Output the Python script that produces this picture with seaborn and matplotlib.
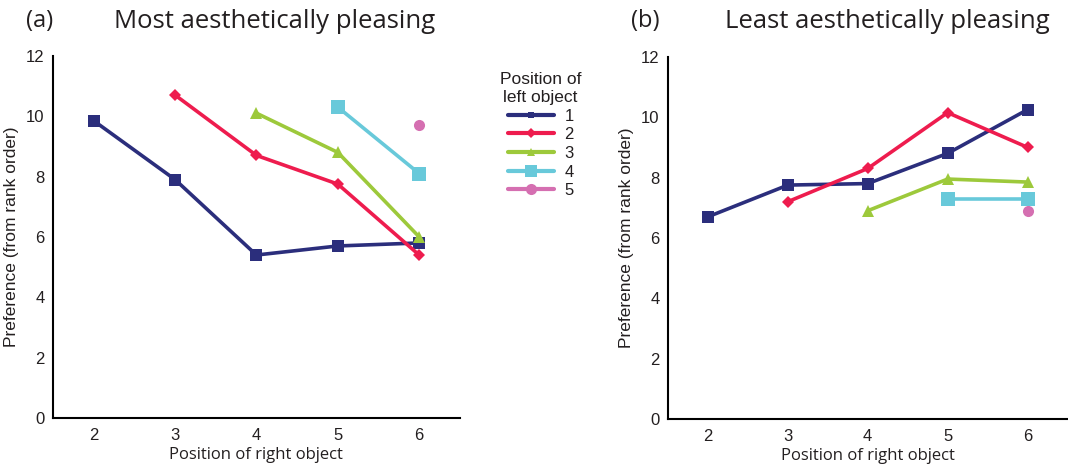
import numpy as np
import pandas as pd
import matplotlib
matplotlib.use('Agg')
import matplotlib.pyplot as plt
from matplotlib.lines import Line2D
import seaborn as sns

# right-object positions and preference values, per left-object position
right_pos = [2, 3, 4, 5, 6]
series_labels = ['1', '2', '3', '4', '5']

most_1 = [9.85, 7.9, 5.4, 5.7, 5.8]
most_2 = [10.7, 8.7, 7.75, 5.4]
most_3 = [10.1, 8.8, 6.0]
most_4 = [10.3, 8.1]
most_5 = [9.7]

least_1 = [6.7, 7.75, 7.8, 8.8, 10.25]
least_2 = [7.2, 8.3, 10.15, 9.0]
least_3 = [6.9, 7.95, 7.85]
least_4 = [7.3, 7.3]
least_5 = [6.9]

colors = ['#2b2e7c', '#ee1c4e', '#9dc93b', '#68c9da', '#d56fb1']
markers = ['s', 'D', '^', 's', 'o']
msizes = [8, 6.5, 9, 10, 8]

sns.set_style('white')
plt.rcParams['font.family'] = ['Liberation Sans', 'DejaVu Sans']


def make_df(series):
    rows = []
    for lab, vals in zip(series_labels, series):
        xs = right_pos[len(right_pos) - len(vals):]
        for x, v in zip(xs, vals):
            rows.append({'right': x, 'pref': v, 'left': lab})
    return pd.DataFrame(rows)


df_most = make_df([most_1, most_2, most_3, most_4, most_5])
df_least = make_df([least_1, least_2, least_3, least_4, least_5])

fig = plt.figure(figsize=(10.68, 4.71), dpi=100)
ax1 = fig.add_axes([0.0496, 0.1125, 0.381, 0.769])
ax2 = fig.add_axes([0.6255, 0.1104, 0.374, 0.769])


def draw(ax, df, tag, title, tag_x, title_x):
    for i, lab in enumerate(series_labels):
        sub = df[df['left'] == lab]
        sns.lineplot(data=sub, x='right', y='pref', ax=ax, color=colors[i],
                     marker=markers[i], markersize=msizes[i], markeredgewidth=0,
                     linewidth=2.6, legend=False)
    ax.set_xlim(1.5, 6.5)
    ax.set_ylim(0, 12)
    ax.set_xticks(right_pos)
    ax.set_xticks(np.arange(1.5, 7, 1), minor=True)
    ax.set_yticks(range(0, 13, 2))
    ax.tick_params(axis='x', which='major', length=0, pad=7, labelsize=12, colors='#231f20')
    ax.tick_params(axis='x', which='minor', length=4, width=1.2, direction='out', color='black')
    ax.tick_params(axis='y', length=4, width=1.2, direction='out', labelsize=12,
                   colors='#231f20', pad=2)
    ax.tick_params(axis='y', color='black')
    for s in ['top', 'right']:
        ax.spines[s].set_visible(False)
    for s in ['left', 'bottom']:
        ax.spines[s].set_color('black')
        ax.spines[s].set_linewidth(1.5)
    ax.set_xlabel('Position of right object', fontsize=12, color='#231f20',
                  family=['Open Sans', 'DejaVu Sans'], labelpad=3)
    ax.set_ylabel('Preference (from rank order)', fontsize=12.5, color='#231f20',
                  family=['Liberation Sans', 'DejaVu Sans'], labelpad=5)
    ax.grid(False)
    fig.text(tag_x, 0.955, tag, fontsize=17, color='#231f20',
             family=['Open Sans', 'DejaVu Sans'], va='center', ha='left')
    fig.text(title_x, 0.955, title, fontsize=18.5, color='#231f20',
             family=['Open Sans', 'DejaVu Sans'], va='center', ha='left')


draw(ax1, df_most, '(a)', 'Most aesthetically pleasing', 0.024, 0.107)
draw(ax2, df_least, '(b)', 'Least aesthetically pleasing', 0.591, 0.679)

handles = [Line2D([0], [0], color=colors[i], marker=markers[i],
                  markersize=[5, 5, 6, 9, 8][i], markeredgewidth=0, linewidth=3)
           for i in range(5)]
leg = fig.legend(handles, series_labels, title='Position of\nleft object',
                 loc='upper left', bbox_to_anchor=(0.454, 0.879), frameon=False,
                 fontsize=12, title_fontsize=12.5, handlelength=2.8,
                 labelspacing=0.22, handletextpad=0.6)
leg._legend_box.align = 'center'
plt.setp(leg.get_title(), color='#231f20', multialignment='center', linespacing=1.25)
for t in leg.get_texts():
    t.set_color('#231f20')

fig.savefig('out.png', dpi=100)
